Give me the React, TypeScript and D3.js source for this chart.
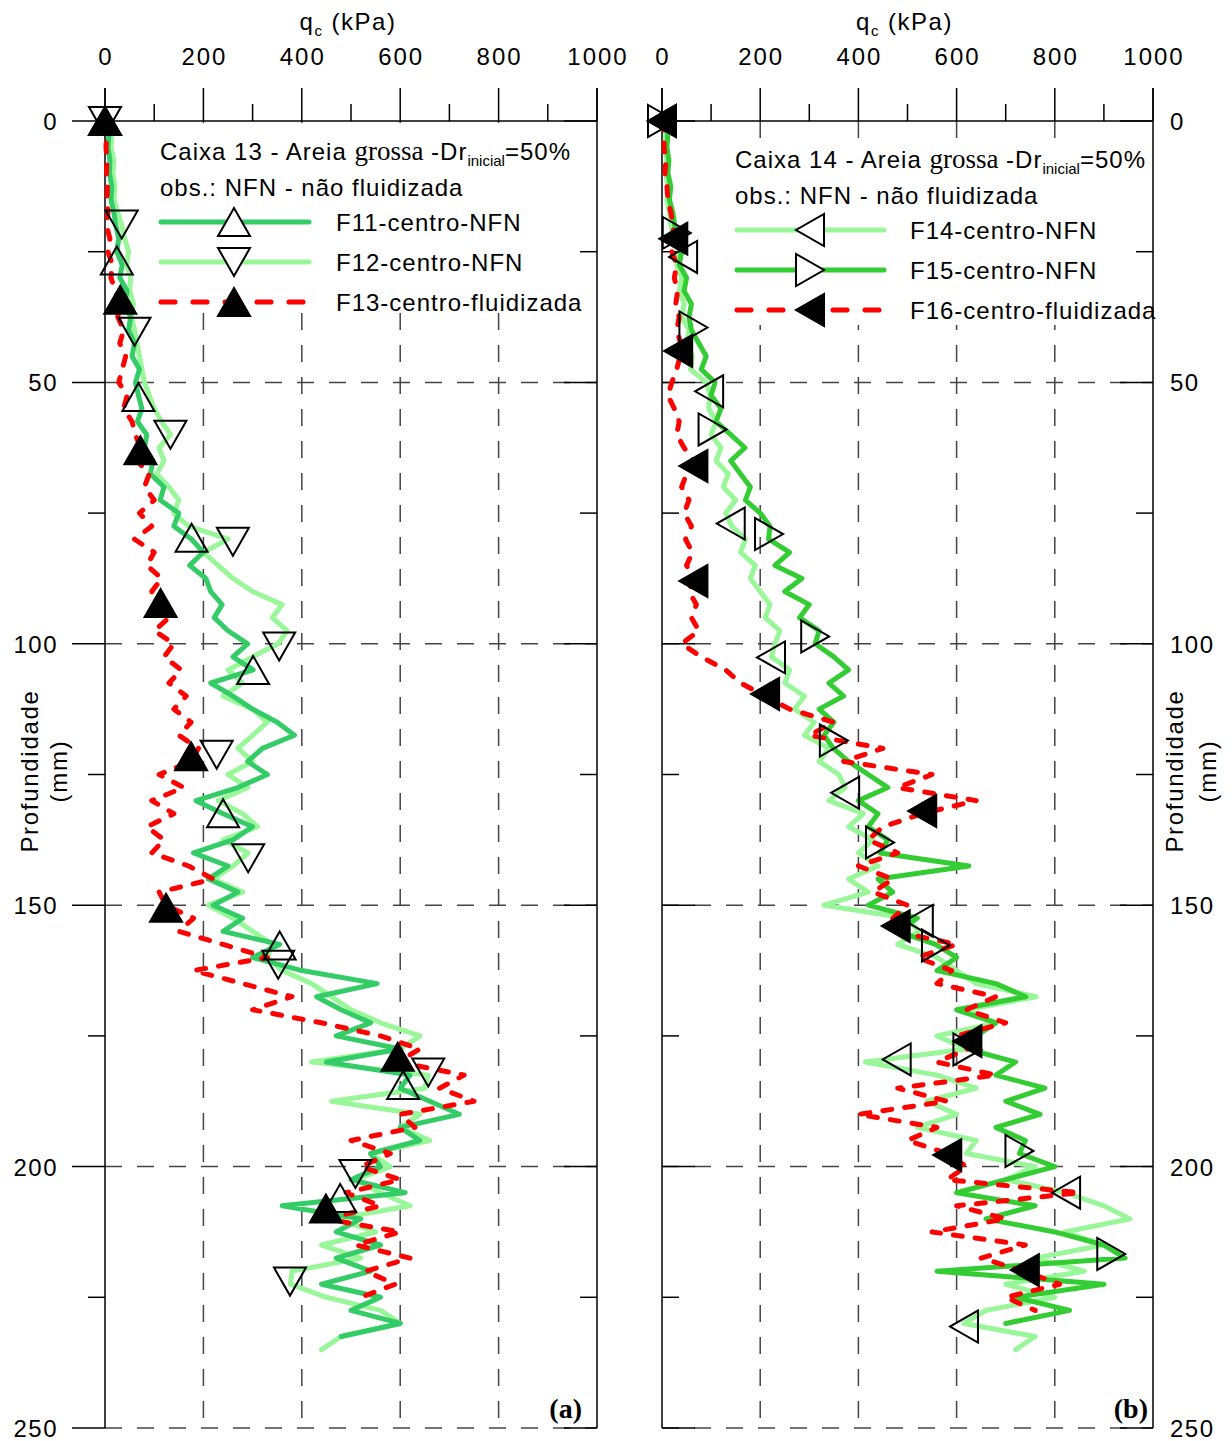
import React from 'react';
import * as d3 from 'd3';

// ---------- data (depth grid step in mm; values = qc in kPa) ----------
const STEP = 2.5;
const X_TICKS = [0, 200, 400, 600, 800, 1000];
const X_MINOR = [100, 300, 500, 700, 900];
const Y_TICKS = [0, 50, 100, 150, 200, 250];
const Y_MINOR = [25, 75, 125, 175, 225];

const F11 = [5, 8, 6, 10, 9, 14, 12, 18, 22, 28, 24, 35, 30, 45, 40, 52, 48, 60, 55, 70, 62, 68, 75, 66, 85, 80, 98, 92, 120, 112, 150, 140, 176, 200, 172, 205, 215, 238, 222, 250, 290, 260, 301, 215, 260, 300, 350, 385, 320, 290, 330, 270, 185, 240, 300, 260, 180, 250, 210, 270, 220, 280, 240, 355, 300, 400, 553, 430, 480, 540, 470, 600, 450, 620, 600, 660, 720, 600, 640, 540, 560, 500, 610, 360, 520, 470, 560, 470, 540, 440, 560, 500, 600, 480];
const F12 = [10, 14, 12, 18, 16, 20, 18, 26, 34, 40, 48, 44, 52, 50, 58, 54, 60, 65, 70, 75, 80, 90, 100, 115, 133, 110, 120, 105, 130, 150, 140, 170, 250, 200, 230, 260, 300, 360, 340, 370, 352, 300, 250, 280, 240, 300, 330, 300, 270, 300, 250, 290, 230, 280, 310, 240, 291, 260, 220, 280, 210, 260, 300, 340, 330, 360, 420, 460, 500, 560, 640, 600, 420, 657, 650, 460, 640, 600, 660, 540, 580, 509, 560, 620, 470, 550, 440, 520, 380, 377, 450, 560, 600, 480, 440];
const F13 = [2, 3, 2, 4, 3, 5, 4, 6, 3, 10, 6, 15, 12, 22, 31, 26, 38, 30, 42, 35, 28, 45, 38, 55, 62, 72, 65, 90, 80, 100, 70, 95, 60, 100, 85, 115, 95, 113, 130, 100, 140, 120, 155, 130, 165, 140, 175, 150, 190, 175, 110, 160, 95, 140, 85, 120, 95, 170, 220, 110, 124, 180, 150, 240, 330, 180, 280, 380, 300, 440, 560, 640, 595, 730, 680, 750, 600, 630, 500, 580, 520, 600, 490, 560, 449, 600, 510, 620, 530, 590, 520];
const F14 = [5, 8, 6, 10, 8, 12, 10, 15, 18, 22, 35, 30, 40, 35, 45, 40, 55, 50, 62, 58, 90, 98, 95, 110, 100, 120, 110, 135, 125, 150, 130, 142, 170, 160, 190, 180, 200, 220, 210, 240, 230, 223, 260, 250, 290, 270, 310, 290, 340, 320, 360, 373, 340, 410, 380, 430, 400, 440, 380, 420, 330, 500, 523, 480, 560, 600, 640, 762, 620, 680, 560, 620, 414, 560, 640, 540, 600, 520, 640, 620, 760, 700, 823, 900, 953, 820, 900, 760, 860, 700, 800, 660, 615, 760, 720];
const F15 = [8, 12, 10, 14, 12, 18, 15, 22, 26, 30, 40, 35, 50, 45, 60, 55, 60, 75, 90, 80, 108, 100, 120, 110, 140, 169, 140, 160, 180, 170, 200, 220, 217, 260, 230, 285, 250, 300, 280, 320, 312, 350, 380, 340, 370, 320, 350, 330, 349, 380, 420, 460, 400, 440, 420, 460, 444, 625, 440, 470, 420, 520, 480, 557, 600, 560, 680, 741, 600, 680, 640, 622, 720, 680, 780, 700, 770, 680, 740, 728, 800, 700, 600, 760, 660, 800, 900, 943, 560, 900, 720, 830, 700];
const F16 = [3, 5, 4, 8, 6, 10, 12, 18, 22, 25, 20, 30, 25, 32, 28, 35, 30, 38, 37, 30, 20, 12, 25, 35, 30, 45, 64, 50, 40, 55, 45, 60, 48, 62, 50, 64, 55, 70, 60, 75, 40, 80, 130, 160, 210, 260, 350, 300, 450, 370, 550, 480, 640, 530, 450, 420, 480, 400, 470, 430, 500, 470, 475, 600, 520, 590, 560, 680, 620, 700, 600, 622, 560, 680, 480, 580, 400, 560, 500, 581, 620, 580, 850, 600, 700, 550, 740, 650, 738, 810, 700, 760];

// marker positions [depth, qc]
const F11_MK = [[0, 0], [26.7, 24], [52.8, 68], [79.7, 176], [105, 301], [132.4, 240], [157.7, 355], [184.4, 606], [206, 478]];
const F12_MK = [[0, 0], [19.8, 34], [40.3, 60], [60, 133], [80.5, 260], [100.5, 354], [121.2, 227], [141, 291], [161.4, 352], [182, 657], [201.4, 509], [222, 376]];
const F13_MK = [[0, 0], [34.2, 31], [63, 72], [92.2, 113], [121.5, 175], [150.5, 124], [179, 595], [208, 449]];
const F14_MK = [[0, 0], [26, 43], [51.7, 96], [77, 140], [102.6, 222], [128.5, 373], [153, 523], [179.5, 478], [205, 823], [230.6, 615]];
const F15_MK = [[0, 0], [21.4, 30], [39.5, 64], [59, 103], [79, 218], [98.6, 312], [118.5, 350], [138, 444], [157.7, 558], [177.6, 622], [197, 728], [216.7, 915]];
const F16_MK = [[0, 0], [22.5, 23], [44, 33], [66, 64], [88, 64], [109.6, 210], [132, 530], [154, 476], [176, 622], [197.8, 581], [219.8, 739]];

// ---------- styling ----------
const FONT = 'Liberation Sans, Arial, sans-serif';
const SERIF = 'Liberation Serif, Times New Roman, serif';
const C_MED = '#33cc66';
const C_LIGHT = '#99f799';
const C_GREEN = '#33cc33';
const C_RED = '#ff0000';
const GRID = '#444';

const yScale = d3.scaleLinear().domain([0, 250]).range([121, 1428]);
const xLeft = d3.scaleLinear().domain([0, 1000]).range([105, 597]);
const xRight = d3.scaleLinear().domain([0, 1000]).range([662, 1153]);

function tri(dir: string, x: number, y: number) {
  const a = 16, b = 14;
  switch (dir) {
    case 'up': return `M${x - a},${y + b}L${x + a},${y + b}L${x},${y - b}Z`;
    case 'down': return `M${x - a},${y - b}L${x + a},${y - b}L${x},${y + b}Z`;
    case 'left': return `M${x + b},${y - a}L${x + b},${y + a}L${x - b},${y}Z`;
    default: return `M${x - b},${y - a}L${x - b},${y + a}L${x + b},${y}Z`;
  }
}

type Series = { vals: number[]; mk: number[][]; color: string; dashed: boolean; dir: string; filled: boolean; name: string; row: number };

function Panel({ x, series, legendTitle, legendX, legendY, lineX1, lineX2, markX, textX, letter, letterX, side, bg }: any) {
  const [x0, x1] = x.range();
  const line = d3.line<number[]>().x(d => x(d[1])).y(d => yScale(d[0]));
  const y0 = 88, yB = yScale(250);
  const outerLeft = side === 'left';
  const K = { stroke: '#000', strokeWidth: 1.5 };
  return (
    <g>
      {/* grid */}
      {X_TICKS.filter(t => t > 0 && t < 1000).map(t => (
        <line key={'gx' + t} x1={x(t)} x2={x(t)} y1={yScale(0)} y2={yB} stroke={GRID} strokeWidth={1.5} strokeDasharray="17 15" />
      ))}
      {Y_TICKS.filter(t => t > 0).map(t => (
        <line key={'gy' + t} x1={x0} x2={x1} y1={yScale(t)} y2={yScale(t)} stroke={GRID} strokeWidth={1.5} strokeDasharray="17 15" />
      ))}
      {/* legend background */}
      <rect x={bg[0]} y={bg[1]} width={bg[2]} height={bg[3]} fill="#fff" />
      {/* frame */}
      <line x1={x0} x2={x0} y1={y0} y2={yB} {...K} />
      <line x1={x1} x2={x1} y1={y0} y2={yB} {...K} />
      <line x1={x0} x2={x1} y1={yScale(0)} y2={yScale(0)} {...K} />
      {/* top ticks */}
      {X_TICKS.map(t => <line key={'tx' + t} x1={x(t)} x2={x(t)} y1={y0} y2={yScale(0)} {...K} />)}
      {X_MINOR.map(t => <line key={'mx' + t} x1={x(t)} x2={x(t)} y1={104} y2={yScale(0)} {...K} />)}
      {X_TICKS.map(t => (
        <text key={'lx' + t} x={x(t) + 1} y={65} fontSize={24} fontFamily={FONT} textAnchor="middle" letterSpacing={2}>{t}</text>
      ))}
      <text x={(x0 + x1) / 2 - 3} y={30} fontSize={24} fontFamily={FONT} textAnchor="middle" letterSpacing={1.5}>
        q<tspan fontSize={15} dy={6}>c</tspan><tspan dy={-6}> (kPa)</tspan>
      </text>
      {/* side ticks */}
      {Y_TICKS.map(t => {
        const yy = yScale(t);
        return (
          <g key={'ty' + t}>
            {outerLeft ? <line x1={x0 - 33} x2={x0} y1={yy} y2={yy} {...K} />
              : <line x1={x0} x2={x0 + 33} y1={yy} y2={yy} {...K} />}
            <line x1={x1 - 33} x2={x1} y1={yy} y2={yy} {...K} />
          </g>
        );
      })}
      {Y_MINOR.map(t => {
        const yy = yScale(t);
        return (
          <g key={'my' + t}>
            {outerLeft ? <line x1={x0 - 17} x2={x0} y1={yy} y2={yy} {...K} />
              : <line x1={x0} x2={x0 + 17} y1={yy} y2={yy} {...K} />}
            <line x1={x1 - 17} x2={x1} y1={yy} y2={yy} {...K} />
          </g>
        );
      })}
      {Y_TICKS.map(t => (
        outerLeft
          ? <text key={'ly' + t} x={58} y={yScale(t) + 9} fontSize={24} fontFamily={FONT} textAnchor="end" letterSpacing={1.5}>{t}</text>
          : <text key={'ly' + t} x={1170} y={yScale(t) + 9} fontSize={24} fontFamily={FONT} textAnchor="start" letterSpacing={1.5}>{t}</text>
      ))}
      {outerLeft ? (
        <g>
          <text transform={`translate(38,771) rotate(-90)`} fontSize={24} fontFamily={FONT} textAnchor="middle" letterSpacing={1.7}>Profundidade</text>
          <text transform={`translate(67,771) rotate(-90)`} fontSize={24} fontFamily={FONT} textAnchor="middle" letterSpacing={1.7}>(mm)</text>
        </g>
      ) : (
        <g>
          <text transform={`translate(1183,771) rotate(-90)`} fontSize={24} fontFamily={FONT} textAnchor="middle" letterSpacing={1.7}>Profundidade</text>
          <text transform={`translate(1216,771) rotate(-90)`} fontSize={24} fontFamily={FONT} textAnchor="middle" letterSpacing={1.7}>(mm)</text>
        </g>
      )}
      {/* series */}
      {series.map((s: Series) => (
        <path key={s.name} d={line(s.vals.map((v, i) => [i * STEP, v])) || ''} fill="none" stroke={s.color} strokeWidth={5}
          strokeLinejoin="round" strokeLinecap="round" strokeDasharray={s.dashed ? '9 13' : undefined} />
      ))}
      {series.map((s: Series) => (
        <g key={s.name + 'm'}>
          {s.mk.map((m, i) => (
            <path key={i} d={tri(s.dir, x(m[1]), yScale(m[0]))} fill={s.filled ? '#000' : 'none'}
              stroke="#000" strokeWidth={2} />
          ))}
        </g>
      ))}
      {/* legend */}
      <text x={legendX} y={legendY} fontSize={24} fontFamily={FONT} letterSpacing={1}>
        {legendTitle}<tspan fontFamily={SERIF} fontSize={27} letterSpacing={0}>grossa</tspan> -Dr<tspan fontSize={15} dy={6} letterSpacing={0}>inicial</tspan><tspan dy={-6}>=50%</tspan>
      </text>
      <text x={legendX} y={legendY + 36} fontSize={24} fontFamily={FONT} letterSpacing={1}>obs.: NFN - não fluidizada</text>
      {series.map((s: Series) => {
        const ly = s.row;
        return (
          <g key={s.name + 'l'}>
            <line x1={lineX1} x2={lineX2} y1={ly} y2={ly} stroke={s.color} strokeWidth={5} strokeLinecap="round" strokeDasharray={s.dashed ? '14 18' : undefined} />
            <path d={tri(s.dir, markX, ly)} fill={s.filled ? '#000' : '#fff'} stroke="#000" strokeWidth={2} />
            <text x={textX} y={ly + 9} fontSize={24} fontFamily={FONT} letterSpacing={1}>{s.name}</text>
          </g>
        );
      })}
      <text x={letterX} y={1418} fontSize={28} fontWeight="bold" fontFamily={SERIF} textAnchor="end">{letter}</text>
    </g>
  );
}

export default function App() {
  const leftSeries: Series[] = [
    { vals: F12, mk: F12_MK, color: C_LIGHT, dashed: false, dir: 'down', filled: false, name: 'F12-centro-NFN', row: 262 },
    { vals: F11, mk: F11_MK, color: C_MED, dashed: false, dir: 'up', filled: false, name: 'F11-centro-NFN', row: 222 },
    { vals: F13, mk: F13_MK, color: C_RED, dashed: true, dir: 'up', filled: true, name: 'F13-centro-fluidizada', row: 302 },
  ];
  const rightSeries: Series[] = [
    { vals: F14, mk: F14_MK, color: C_LIGHT, dashed: false, dir: 'left', filled: false, name: 'F14-centro-NFN', row: 230 },
    { vals: F15, mk: F15_MK, color: C_GREEN, dashed: false, dir: 'right', filled: false, name: 'F15-centro-NFN', row: 270 },
    { vals: F16, mk: F16_MK, color: C_RED, dashed: true, dir: 'left', filled: true, name: 'F16-centro-fluidizada', row: 310 },
  ];
  return (
    <svg width={1232} height={1441} style={{ position: 'absolute', left: 0, top: 0, background: '#fff' }}>
      <rect width={1232} height={1441} fill="#fff" />
      <Panel x={xLeft} series={leftSeries} legendTitle="Caixa 13 - Areia " legendX={160} legendY={160}
        lineX1={161} lineX2={309} markX={234} textX={336} letter="(a)" letterX={582} side="left" bg={[150, 123, 446, 190]} />
      <Panel x={xRight} series={rightSeries} legendTitle="Caixa 14 - Areia " legendX={735} legendY={168}
        lineX1={737} lineX2={884} markX={810} textX={910} letter="(b)" letterX={1148} side="right" bg={[725, 145, 427, 180]} />
    </svg>
  );
}
